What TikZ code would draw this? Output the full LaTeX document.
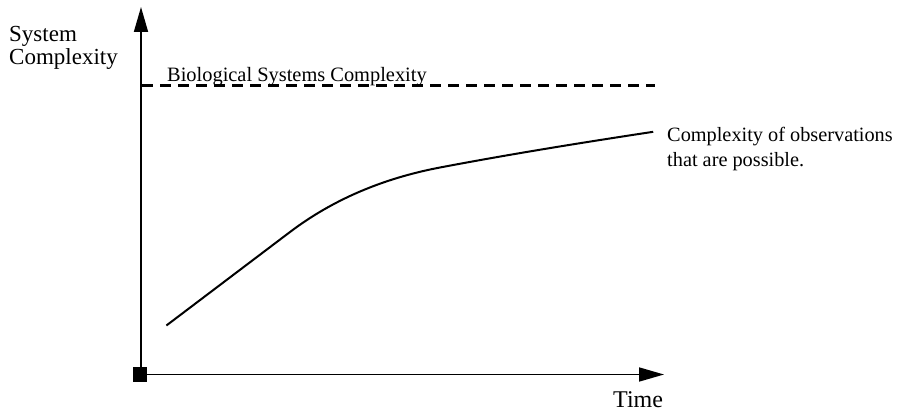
\documentclass[tikz,border=0pt]{standalone}
\usepackage{fontspec}
\setmainfont{Liberation Serif}
\usetikzlibrary{arrows.meta}
\begin{document}
\begin{tikzpicture}[x=1pt,y=-1pt,
  lbl/.style={inner sep=0pt},
  axisline/.style={line width=1.7pt,-{Triangle[length=25pt,width=14pt]}},
  origbox/.style={fill=black,draw=none,minimum size=14.5pt,inner sep=0pt},
  limitline/.style={line width=2.2pt,dash pattern=on 10.5pt off 7.5pt},
  curveline/.style={line width=2pt,line join=round}]
\useasboundingbox (0,0) rectangle (901,414);
\coordinate (O) at (141,374.5);
\coordinate (ytip) at (141,7);
\coordinate (xtip) at (664,374.5);
\draw[axisline] (O) -- (ytip);
\draw[axisline] (O) -- (xtip);
\node[origbox] (orig) at (140,374.5) {};
\coordinate (dA) at (142,85.5);
\coordinate (dB) at (655,85.5);
\draw[limitline] (dA) -- (dB);
\coordinate (c0) at (166.4,325.5);
\coordinate (c1) at (290,232);
\coordinate (c2) at (440,167.5);
\coordinate (c3) at (653.2,131.8);
\draw[curveline] (c0) -- (c1)
  .. controls (332.3,200) and (382.2,178.5) .. (c2)
  .. controls (511,154) and (582.2,142.6) .. (c3);
\node[lbl,anchor=north west,align=left,font=\fontsize{23}{23}\selectfont] (ylab) at (9,26.5) {System\\Complexity};
\node[lbl,anchor=base west,font=\fontsize{20.4}{24}\selectfont] (bio) at (167,82) {Biological Systems Complexity};
\node[lbl,anchor=north west,align=left,font=\fontsize{20.3}{25}\selectfont] (obs) at (667,127) {Complexity of observations\\that are possible.};
\node[lbl,anchor=base west,font=\fontsize{24}{24}\selectfont] (time) at (613,407) {Time};
\end{tikzpicture}
\end{document}
